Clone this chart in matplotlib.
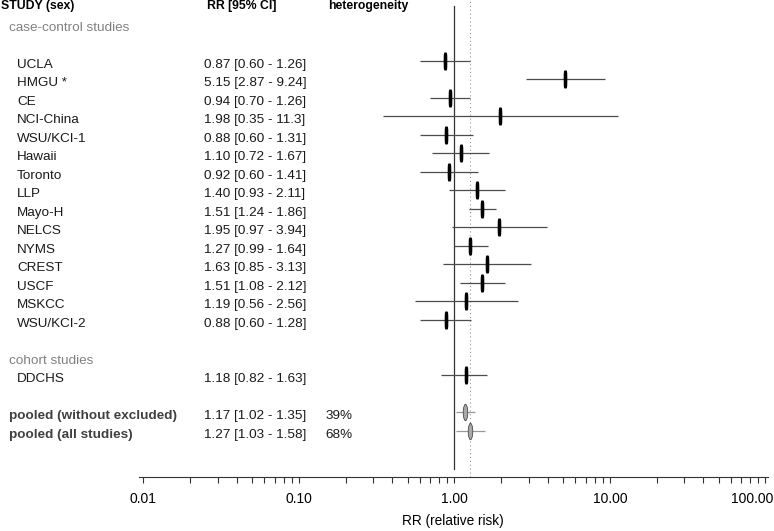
import numpy as np
import matplotlib
matplotlib.use('Agg')
import matplotlib.pyplot as plt
from matplotlib.path import Path

plt.rcParams['font.family'] = ['Liberation Sans', 'DejaVu Sans']

# study data (RR with 95% CI)
case_control = ['UCLA', 'HMGU *', 'CE', 'NCI-China', 'WSU/KCI-1', 'Hawaii', 'Toronto', 'LLP',
                'Mayo-H', 'NELCS', 'NYMS', 'CREST', 'USCF', 'MSKCC', 'WSU/KCI-2']
cc_rr = [0.87, 5.15, 0.94, 1.98, 0.88, 1.10, 0.92, 1.40, 1.51, 1.95, 1.27, 1.63, 1.51, 1.19, 0.88]
cc_lo = [0.60, 2.87, 0.70, 0.35, 0.60, 0.72, 0.60, 0.93, 1.24, 0.97, 0.99, 0.85, 1.08, 0.56, 0.60]
cc_hi = [1.26, 9.24, 1.26, 11.3, 1.31, 1.67, 1.41, 2.11, 1.86, 3.94, 1.64, 3.13, 2.12, 2.56, 1.28]

cohort = ['DDCHS']
co_rr = [1.18]
co_lo = [0.82]
co_hi = [1.63]

pooled = ['pooled (without excluded)', 'pooled (all studies)']
pool_rr = [1.17, 1.27]
pool_lo = [1.02, 1.03]
pool_hi = [1.35, 1.58]
pool_het = ['39%', '68%']

tick_vals = [0.01, 0.1, 1, 10, 100]
tick_labels = ['0.01', '0.10', '1.00', '10.00', '100.00']

# row layout (row index, 0 = header)
cc_rows = np.arange(3, 3 + len(case_control))
co_rows = np.arange(cc_rows[-1] + 3, cc_rows[-1] + 3 + len(cohort))
pool_rows = np.arange(co_rows[-1] + 2, co_rows[-1] + 2 + len(pooled))

fig = plt.figure(figsize=(7.74, 5.31), dpi=100)
ax = fig.add_axes([0.1796, 0.1017, 0.8123, 0.8983])
ax.set_xscale('log')
ax.set_xlim(0.00938, 103.6)
ax.set_ylim(25.49, -0.297)

for s in ['top', 'right', 'left']:
    ax.spines[s].set_visible(False)
ax.spines['bottom'].set_color('#333333')
ax.set_yticks([])
ax.set_xticks(tick_vals)
ax.set_xticklabels(tick_labels, fontsize=10)
ax.tick_params(axis='x', which='both', length=4.5, width=0.8, color='#333333', pad=6)
ax.xaxis.set_minor_locator(matplotlib.ticker.LogLocator(base=10, subs=np.arange(2, 10)))
ax.xaxis.set_minor_formatter(matplotlib.ticker.NullFormatter())
ax.set_xlabel('RR (relative risk)', fontsize=9.8, labelpad=6)

# last label is pulled in so it stays on the page
last = ax.get_xticklabels()[-1]
last.set_horizontalalignment('right')
last.set_transform(last.get_transform() +
                   matplotlib.transforms.ScaledTranslation(0.08, 0, fig.dpi_scale_trans))

# reference lines
ax.axvline(1.0, ymin=0.0168, ymax=0.987, color='#333333', lw=0.9)
ax.axvline(pool_rr[1], ymin=0, ymax=1, color='#999999', lw=0.8, ls=(0, (1, 2.5)))

t = np.linspace(0, 2 * np.pi, 60)
box = Path(np.column_stack([0.2 * np.sign(np.cos(t)) * np.abs(np.cos(t)) ** 0.4,
                            np.sign(np.sin(t)) * np.abs(np.sin(t)) ** 0.5]))
lens = Path(np.column_stack([0.28 * np.sign(np.cos(t)) * np.abs(np.cos(t)) ** 1.2,
                             np.sin(t)]))

all_rows = list(cc_rows) + list(co_rows)
all_rr = cc_rr + co_rr
all_lo = cc_lo + co_lo
all_hi = cc_hi + co_hi
ax.hlines(all_rows, all_lo, all_hi, color='#4d4d4d', lw=0.9)
ax.plot(all_rr, all_rows, ls='none', marker=box, ms=13, color='black', mew=0, zorder=3)

ax.hlines(pool_rows, pool_lo, pool_hi, color='#999999', lw=0.9)
ax.plot(pool_rr, pool_rows, ls='none', marker=lens, ms=12, mfc='#a8a8a8', mec='#333333',
        mew=0.5, zorder=3)

# text columns
tr = matplotlib.transforms.blended_transform_factory(fig.transFigure, ax.transData)
x_head, x_sect, x_name, x_rr, x_het = 0.001, 0.0116, 0.022, 0.2636, 0.421
off = 0.2
fs = 9.7

ax.text(x_head, 0.05, 'STUDY (sex)', transform=tr, fontsize=8.8, fontweight='bold', va='center')
ax.text(0.2675, 0.05, 'RR [95% CI]', transform=tr, fontsize=8.8, fontweight='bold', va='center')
ax.text(0.4238, 0.05, 'heterogeneity', transform=tr, fontsize=8.8, fontweight='bold', va='center')

ax.text(x_sect, 1.2, 'case-control studies', transform=tr, fontsize=fs, color='#808080', va='center')
ax.text(x_sect, co_rows[0] - 1 + off, 'cohort studies', transform=tr, fontsize=fs, color='#808080',
        va='center')

names = case_control + cohort
for name, r, rr, lo, hi in zip(names, all_rows, all_rr, all_lo, all_hi):
    ax.text(x_name, r + off, name, transform=tr, fontsize=fs, color='#1a1a1a', va='center')
    hi_s = '%.1f' % hi if hi >= 10 else '%.2f' % hi
    ax.text(x_rr, r + off, '%.2f [%.2f - %s]' % (rr, lo, hi_s), transform=tr, fontsize=fs,
            color='#1a1a1a', va='center')

for name, r, rr, lo, hi, het in zip(pooled, pool_rows, pool_rr, pool_lo, pool_hi, pool_het):
    ax.text(x_sect, r + off, name, transform=tr, fontsize=fs, fontweight='bold', color='#404040',
            va='center')
    ax.text(x_rr, r + off, '%.2f [%.2f - %.2f]' % (rr, lo, hi), transform=tr, fontsize=fs,
            color='#1a1a1a', va='center')
    ax.text(x_het, r + off, het, transform=tr, fontsize=fs, color='#1a1a1a', va='center')

fig.savefig('out.png', dpi=100)
